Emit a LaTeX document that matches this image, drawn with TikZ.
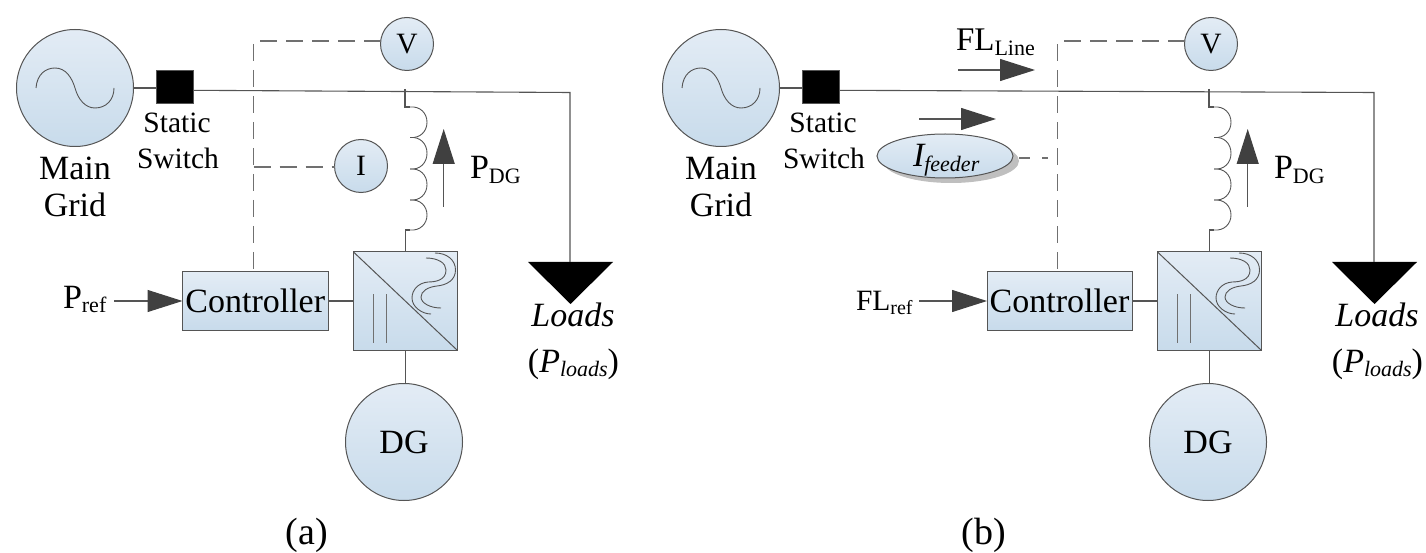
\documentclass[tikz,border=0pt]{standalone}
\usepackage{fontspec}
\setmainfont{Liberation Serif}
\usetikzlibrary{arrows.meta,shapes.geometric}
\definecolor{topfill}{HTML}{E3ECF5}
\definecolor{botfill}{HTML}{C8DBEB}
\definecolor{wire}{HTML}{555555}
\definecolor{dashc}{HTML}{707070}
\definecolor{tipc}{HTML}{404040}
\newcommand{\fbig}{\fontsize{34}{36}\selectfont}
\newcommand{\fmid}{\fontsize{29.5}{36}\selectfont}
\newcommand{\fcap}{\fontsize{38}{40}\selectfont}
\newcommand{\lowered}[2][22]{\raisebox{-4.5pt}{\fontsize{#1}{#1}\selectfont #2}}
\tikzset{
  wireline/.style={draw=wire,line width=1.1pt},
  thinwire/.style={draw=wire,line width=0.9pt},
  dashline/.style={draw=dashc,line width=1.1pt,dash pattern=on 17pt off 9pt},
  flow/.style={draw=wire,line width=1.1pt,-{Triangle[length=35pt,width=22pt,fill=tipc,color=tipc]}},
  unit/.style={draw=wire,line width=1pt,top color=topfill,bottom color=botfill,inner sep=0pt,outer sep=0pt},
  disc/.style={unit,circle},
  boxu/.style={unit,rectangle},
  lab/.style={anchor=base,inner sep=0pt,outer sep=0pt,font=\fbig},
  labm/.style={anchor=base,inner sep=0pt,outer sep=0pt,font=\fmid},
  capt/.style={anchor=base,inner sep=0pt,outer sep=0pt,font=\fcap},
}
% grid, switch and captions; drawn in a shifted scope
\newcommand{\gridpart}{%
  \node[disc,minimum size=117pt] (grid) at (75,88) {};
  \draw[thinwire] (36,88) .. controls (37,74) and (46,68) .. (55,68)
     .. controls (66,68) and (72,78) .. (75,88)
     .. controls (78,99) and (85,108) .. (95,108)
     .. controls (106,108) and (114,100) .. (114,88);
  \node[rectangle,fill=black,draw=wire,line width=0.6pt,minimum width=37pt,minimum height=33pt,inner sep=0pt,outer sep=0pt] (sw) at (174.5,86.5) {};
  \draw[wireline] (grid.east) -- (sw.west |- grid.east);
  \coordinate (bus) at (193,90.3);
  \node[labm] (st1) at (177,133) {Static};
  \node[labm] (st2) at (178,169) {Switch};
  \node[lab] (mg1) at (75,180) {Main};
  \node[lab] (mg2) at (75,217) {Grid};
}
% V meter, inductor, converter, DG, load
\newcommand{\feederpart}{%
  \node[disc,minimum size=53pt,font=\fmid] (vm) at (407,44) {\raisebox{-3pt}{V}\hspace{6pt}};
  \coordinate (tap) at (405,89);
  \coordinate (ct) at (410,107);
  \coordinate (cb) at (410,230);
  \foreach \ya/\yb in {107/137.5,137.5/169,169/200,200/230}{
    \draw[thinwire] (410,\ya) .. controls (420,\ya-1) and (427,\ya+6) .. (427,{(\ya+\yb)/2})
       .. controls (427,\yb-6) and (420,\yb+1) .. (410,\yb);
  }
  \node[boxu,minimum width=103.5pt,minimum height=98pt] (conv) at (405.25,301) {};
  \draw[wireline] (tap) -- (405,107) -- (ct);
  \draw[wireline] (conv.north) -- (405.25,230) -- (cb);
  \draw[draw=wire,line width=1pt] (conv.north west) -- (conv.south east);
  \draw[draw=dashc,line width=1pt] (373,294) -- (373,343) (386,294) -- (386,343);
  \draw[draw=wire,line width=0.9pt] (426,258) .. controls (438,258) and (446,263) .. (446,270)
     .. controls (446,280) and (436,282) .. (428,282)
     .. controls (418,283) and (412,290) .. (412,298)
     .. controls (412,307) and (422,314) .. (431,314);
  \draw[draw=wire,line width=0.9pt] (435,253) .. controls (447,253) and (455.5,260) .. (455.5,270)
     .. controls (455.5,280) and (447,285) .. (437,286)
     .. controls (428,287) and (421,291) .. (421,297)
     .. controls (421,303) and (430,308) .. (441,308);
  \node[disc,minimum size=117pt,font=\fbig] (dg) at (404,442) {DG};
  \draw[wireline] (conv.south) -- (conv.south |- dg.north);
  \coordinate (pa) at (443.7,207);
  \coordinate (pb) at (443.7,129);
  \draw[flow] (pa) -- (pb);
  \node[lab,anchor=base west] (pdg) at (470,179) {P\lowered{DG}};
  \coordinate (lc) at (570,262);
  \fill[black] (528,262) -- (613,262) -- (570.5,304) -- cycle;
  \node[lab] (ld1) at (573,326) {\itshape Loads};
  \node[lab] (ld2) at (573.5,372) {(\textit{P}\lowered{\itshape loads})};
  \coordinate (corner) at (570,92.5);
}
\begin{document}
\begin{tikzpicture}[x=1pt,y=-1pt]
\useasboundingbox (0,0) rectangle (1426,553);
% ---------- panel (a)
\begin{scope}[name prefix=a-]
  \gridpart
  \feederpart
  \node[boxu,minimum width=145.5pt,minimum height=58pt,font=\fbig] (ctrl) at (255.25,301) {Controller};
  \node[disc,minimum size=53pt,font=\fmid] (im) at (361,166) {I};
  \coordinate (pref) at (114,301);
  \node[lab,anchor=base west] (preft) at (63,308) {P\lowered{ref}};
  \coordinate (dtop) at (253.5,41);
  \coordinate (dmid) at (253.5,167);
  \draw[flow] (pref) -- (ctrl.west);
  \draw[wireline] (ctrl.east) -- (conv.west);
  \draw[dashline] (vm.west |- dtop) -- (dtop) -- (dtop |- ctrl.north);
  \draw[dashline] (dmid) -- (im.west |- dmid);
  \node[capt] (cap) at (307,544.5) {(a)};
\end{scope}
% ---------- panel (b)
\begin{scope}[xshift=646pt,name prefix=bg-]
  \gridpart
\end{scope}
\begin{scope}[xshift=804pt,name prefix=b-]
  \feederpart
\end{scope}
\begin{scope}[name prefix=c-]
  \node[boxu,minimum width=145pt,minimum height=58pt,font=\fbig] (ctrl) at (1059.5,301) {Controller};
  \coordinate (fref) at (919,301);
  \node[labm,anchor=base west] (freft) at (856,310) {FL\lowered[20]{ref}};
  \draw[flow] (fref) -- (ctrl.west);
  \coordinate (dtop) at (1057.7,41);
  \coordinate (dmid) at (1057.7,158);
  \fill[black!25] (951,161) ellipse [x radius=68pt,y radius=22pt];
  \node[unit,ellipse,minimum width=136pt,minimum height=44pt] (feed) at (945,156) {};
  \node[lab,anchor=base west] (feedt) at (913,167) {\itshape I\lowered{feeder}};
  \draw[dashline,dash pattern=on 11pt off 12pt,shorten <=6pt,shorten >=9.7pt] (feed.east |- dmid) -- (dmid);
  \coordinate (fa) at (958,70);
  \coordinate (fb) at (1035,70);
  \draw[flow] (fa) -- (fb);
  \coordinate (ga) at (919,119);
  \coordinate (gb) at (996,119);
  \draw[flow] (ga) -- (gb);
  \node[lab,anchor=base west,font=\fontsize{33}{36}\selectfont] (flt) at (956,51) {FL\lowered{Line}};
  \node[capt] (cap) at (984,544.5) {(b)};
\end{scope}
\draw[wireline] (c-ctrl.east) -- (b-conv.west);
\draw[dashline] (b-vm.west |- c-dtop) -- (c-dtop) -- (c-dtop |- c-ctrl.north);
% ---------- bus lines
\draw[wireline] (a-bus) -- (a-corner) -- (a-lc);
\draw[wireline] (bg-bus) -- (b-corner) -- (b-lc);
\end{tikzpicture}
\end{document}
